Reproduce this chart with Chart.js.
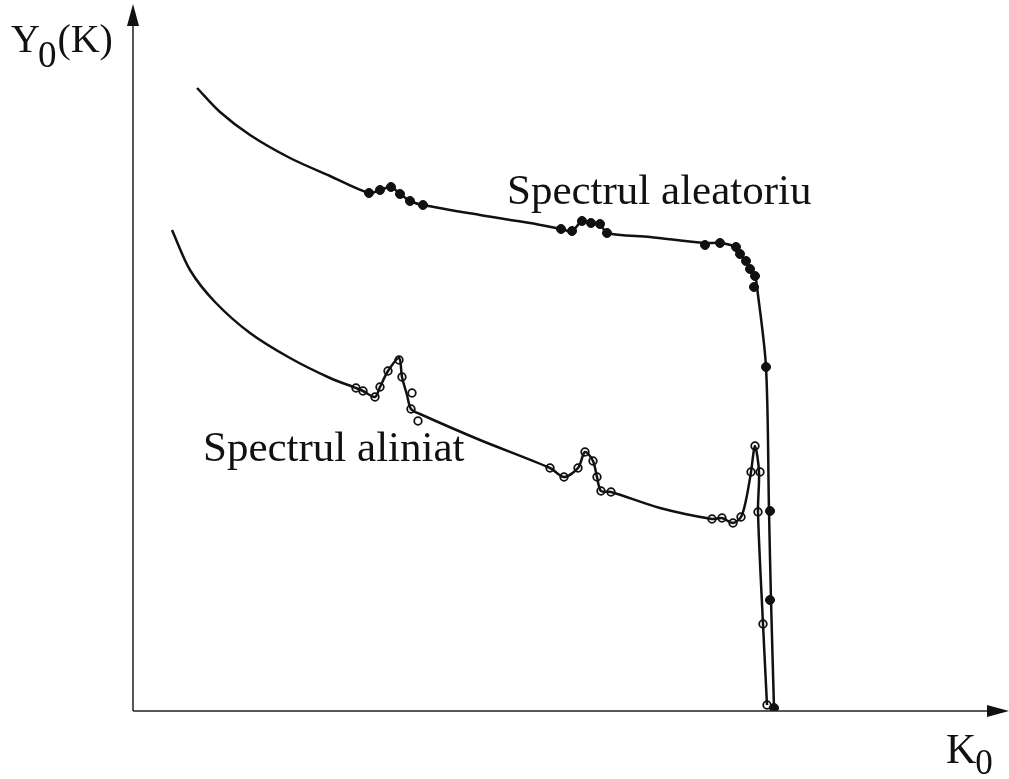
<!DOCTYPE html>
<html>
<head>
<meta charset="utf-8">
<script src="https://cdn.jsdelivr.net/npm/chart.js@4/dist/chart.umd.min.js"></script>
<style>
  body { margin: 0; background: #fff; }
  #wrap { width: 1009px; height: 779px; }
</style>
</head>
<body>
<div id="wrap"><canvas id="chart"></canvas></div>
<script>
// curve of the random spectrum (K0, Y0)
const aleatCurveX = [64, 87, 117, 157, 197, 236, 247, 258, 267, 277, 290, 347, 397, 428, 439, 449, 458, 467, 474, 517, 572, 587, 603, 607, 613, 617, 622, 624, 633, 636, 638, 641];
const aleatCurveY = [623, 599, 576, 553, 535, 518, 521, 524, 517, 510, 506, 496, 488, 482, 480, 490, 488, 487, 478, 474, 468, 468, 464, 457, 450, 442, 435, 424, 344, 200, 111, 3];
// measured points of the random spectrum
const aleatPointX = [236, 247, 258, 267, 277, 290, 428, 439, 449, 458, 467, 474, 572, 587, 603, 607, 613, 617, 622, 621, 633, 637, 637, 641];
const aleatPointY = [518, 521, 524, 517, 510, 506, 482, 480, 490, 488, 487, 478, 466, 468, 464, 457, 450, 442, 435, 424, 344, 200, 111, 3];

// curve of the aligned spectrum
const alinCurveX = [39, 57, 82, 117, 157, 197, 223, 230, 242, 247, 255, 266, 269, 274, 278, 287, 347, 417, 431, 445, 452, 460, 464, 468, 478, 527, 579, 589, 600, 608, 613, 618, 622, 626, 625, 630, 634];
const alinCurveY = [481, 441, 409, 378, 353, 333, 323, 320, 314, 324, 340, 353, 334, 316, 302, 297, 271, 243, 234, 243, 259, 250, 234, 220, 219, 203, 192, 193, 188, 194, 211, 239, 265, 239, 199, 87, 6];
// measured points of the aligned spectrum
const alinPointX = [223, 230, 242, 247, 255, 266, 269, 279, 278, 285, 417, 431, 445, 452, 460, 464, 468, 478, 579, 589, 600, 608, 618, 622, 627, 625, 630, 634];
const alinPointY = [323, 320, 314, 324, 340, 351, 334, 318, 302, 290, 243, 234, 243, 259, 250, 234, 220, 219, 192, 193, 188, 194, 239, 265, 239, 199, 87, 6];

const labels = ["Spectrul aleatoriu", "Spectrul aliniat"];

const pts = (xs, ys) => xs.map((x, i) => ({ x: x, y: ys[i] }));

const FONT = '"Liberation Serif", "DejaVu Serif", serif';

const axesPlugin = {
  id: "axes",
  afterDraw(chart) {
    const ctx = chart.ctx;
    const xs = chart.scales.x, ys = chart.scales.y;
    const x0 = xs.getPixelForValue(0), y0 = ys.getPixelForValue(0);
    ctx.save();
    ctx.strokeStyle = "#222";
    ctx.fillStyle = "#111";
    ctx.lineWidth = 1.5;
    ctx.beginPath();
    ctx.moveTo(x0, y0);
    ctx.lineTo(x0, 20);
    ctx.moveTo(x0, y0);
    ctx.lineTo(995, y0);
    ctx.stroke();
    // arrow heads
    ctx.beginPath();
    ctx.moveTo(x0, 4);
    ctx.lineTo(x0 - 6, 26);
    ctx.lineTo(x0 + 6, 26);
    ctx.closePath();
    ctx.fill();
    ctx.beginPath();
    ctx.moveTo(1009, y0);
    ctx.lineTo(987, y0 - 6);
    ctx.lineTo(987, y0 + 6);
    ctx.closePath();
    ctx.fill();

    // axis titles
    ctx.fillStyle = "#111";
    ctx.textBaseline = "alphabetic";
    ctx.font = "40px " + FONT;
    ctx.fillText("Y", 11, 52);
    let w = ctx.measureText("Y").width;
    ctx.font = "37px " + FONT;
    ctx.fillText("0", 11 + w - 2, 67);
    let w2 = ctx.measureText("0").width;
    ctx.font = "40px " + FONT;
    ctx.fillText("(K)", 11 + w + w2 - 1, 52);

    ctx.font = "42px " + FONT;
    ctx.fillText("K", 946, 763);
    w = ctx.measureText("K").width;
    ctx.font = "35px " + FONT;
    ctx.fillText("0", 946 + w - 1, 774);

    // series labels
    ctx.font = "43px " + FONT;
    ctx.fillText(labels[0], 507, 204);
    ctx.fillText(labels[1], 203, 461);
    ctx.restore();
  }
};

new Chart(document.getElementById("chart"), {
  type: "scatter",
  data: {
    datasets: [
      {
        data: pts(aleatCurveX, aleatCurveY),
        showLine: true,
        borderColor: "#111",
        borderWidth: 2.5,
        pointRadius: 0,
        tension: 0.3
      },
      {
        data: pts(alinCurveX, alinCurveY),
        showLine: true,
        borderColor: "#111",
        borderWidth: 2.5,
        pointRadius: 0,
        tension: 0.3
      },
      {
        data: pts(aleatPointX, aleatPointY),
        pointRadius: 4.5,
        backgroundColor: "#111",
        borderColor: "#111",
        borderWidth: 1
      },
      {
        data: pts(alinPointX, alinPointY),
        pointRadius: 3.8,
        backgroundColor: "#fff",
        borderColor: "#111",
        borderWidth: 1.8
      }
    ]
  },
  options: {
    responsive: true,
    maintainAspectRatio: false,
    animation: false,
    layout: { padding: { left: 133, right: 9, top: 10, bottom: 68 } },
    plugins: { legend: { display: false }, tooltip: { enabled: false } },
    scales: {
      x: { display: false, min: 0, max: 867 },
      y: { display: false, min: 0, max: 701 }
    }
  },
  plugins: [axesPlugin]
});
</script>
</body>
</html>
